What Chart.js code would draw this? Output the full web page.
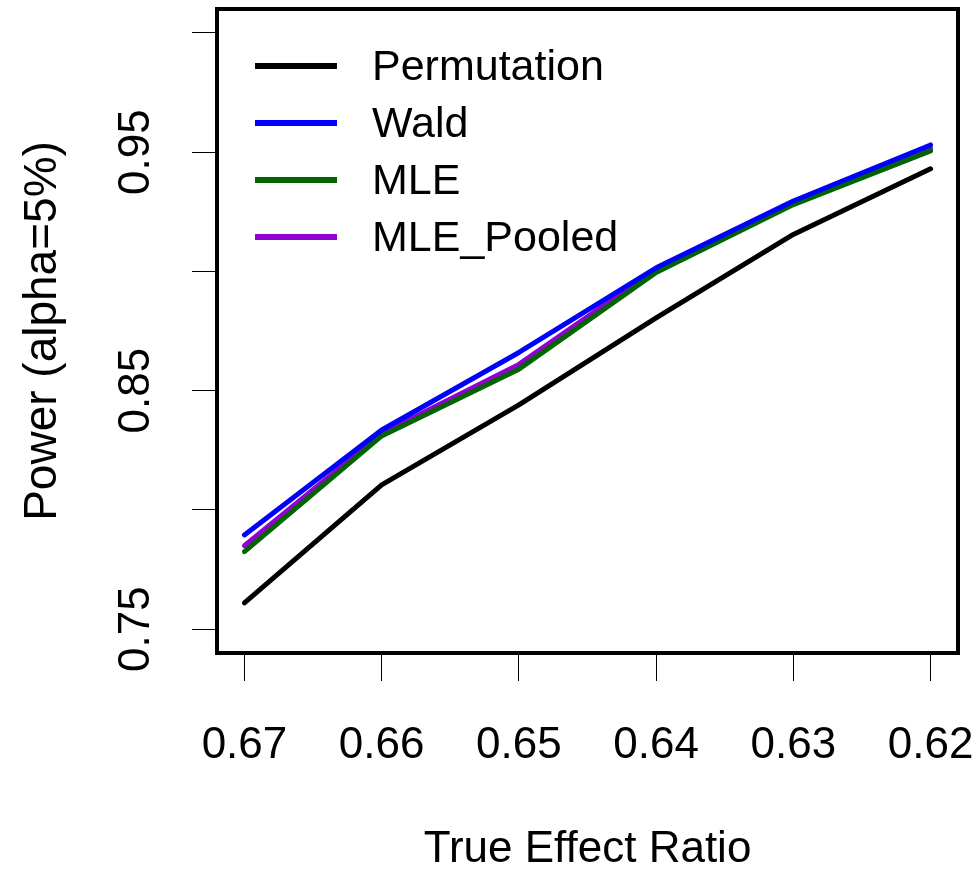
<!DOCTYPE html>
<html>
<head>
<meta charset="utf-8">
<script src="https://cdn.jsdelivr.net/npm/chart.js@4"></script>
<style>
  html, body { margin: 0; padding: 0; background: #fff; }
  #wrap { width: 973px; height: 874px; position: relative; }
</style>
</head>
<body>
<div id="wrap"><canvas id="c"></canvas></div>
<script>
// values
const effectRatios = ["0.67", "0.66", "0.65", "0.64", "0.63", "0.62"];
const permutation = [0.761, 0.8105, 0.844, 0.8805, 0.9155, 0.943];
const wald = [0.7895, 0.8335, 0.866, 0.9015, 0.9295, 0.953];
const mle = [0.7825, 0.831, 0.859, 0.8995, 0.928, 0.9505];
const mlePooled = [0.785, 0.832, 0.861, 0.901, 0.929, 0.9515];
const yTicks = [0.75, 0.8, 0.85, 0.9, 0.95, 1.0];
const yLabelled = [0.75, 0.85, 0.95];

const FONT = "'Liberation Sans', Arial, sans-serif";

function series(label, values, color) {
  return {
    label,
    data: values.map((v, i) => ({ x: i + 1, y: v })),
    borderColor: color,
    backgroundColor: color,
    borderWidth: 5,
    borderCapStyle: "round",
    borderJoinStyle: "round",
    pointRadius: 0,
    tension: 0,
    fill: false,
  };
}

// box around the plot region, like R's box()
const boxPlugin = {
  id: "box",
  afterDraw(chart) {
    const { ctx, chartArea: a } = chart;
    ctx.save();
    ctx.strokeStyle = "#000";
    ctx.lineWidth = 4;
    ctx.strokeRect(a.left, a.top, a.right - a.left, a.bottom - a.top);
    ctx.restore();
  },
};

// legend inside the top-left corner, no frame
const insideLegend = {
  id: "insideLegend",
  afterDraw(chart) {
    const { ctx, chartArea: a } = chart;
    ctx.save();
    ctx.font = "43px " + FONT;
    ctx.textBaseline = "middle";
    ctx.fillStyle = "#000";
    chart.data.datasets.forEach((ds, i) => {
      const y = a.top + 57 + i * 57;
      ctx.strokeStyle = ds.borderColor;
      ctx.lineWidth = 6;
      ctx.beginPath();
      ctx.moveTo(a.left + 38, y);
      ctx.lineTo(a.left + 120, y);
      ctx.stroke();
      ctx.fillText(ds.label, a.left + 155, y + 2);
    });
    ctx.restore();
  },
};

new Chart(document.getElementById("c"), {
  type: "line",
  data: {
    datasets: [
      series("Permutation", permutation, "#000000"),
      series("Wald", wald, "#0000FF"),
      series("MLE", mle, "#006400"),
      series("MLE_Pooled", mlePooled, "#9400D3"),
    ],
  },
  plugins: [boxPlugin, insideLegend],
  options: {
    responsive: true,
    maintainAspectRatio: false,
    animation: false,
    layout: { padding: { left: 0, top: 9, right: 15, bottom: 0 } },
    plugins: { legend: { display: false }, tooltip: { enabled: false } },
    scales: {
      x: {
        type: "linear",
        min: 0.8,
        max: 6.2,
        afterBuildTicks: (s) => { s.ticks = effectRatios.map((_, i) => ({ value: i + 1 })); },
        afterFit: (s) => {
          s.height = 221;
          s.paddingLeft = 0;
          s.paddingRight = 0;
        },
        grid: { drawOnChartArea: false, tickLength: 28, color: "#000", lineWidth: 1 },
        border: { display: false },
        ticks: {
          autoSkip: false,
          maxRotation: 0,
          padding: 38,
          color: "#000",
          font: { family: FONT, size: 44 },
          callback: (v) => effectRatios[Math.round(v) - 1],
        },
        title: {
          display: true,
          text: "True Effect Ratio",
          color: "#000",
          font: { family: FONT, size: 44, lineHeight: 1 },
          padding: { top: 0, bottom: 2 },
        },
      },
      y: {
        min: 0.74,
        max: 1.01,
        afterBuildTicks: (s) => { s.ticks = yTicks.map((v) => ({ value: v })); },
        afterFit: (s) => {
          s.width = 217;
          s.paddingTop = 0;
          s.paddingBottom = 0;
        },
        grid: { drawOnChartArea: false, tickLength: 25, color: "#000", lineWidth: 1 },
        border: { display: false },
        ticks: {
          autoSkip: false,
          minRotation: 90,
          maxRotation: 90,
          crossAlign: "center",
          padding: 12,
          color: "#000",
          font: { family: FONT, size: 44 },
          callback: (v) => (yLabelled.some((t) => Math.abs(t - v) < 1e-9) ? v.toFixed(2) : ""),
        },
        title: {
          display: true,
          text: "Power (alpha=5%)",
          color: "#000",
          font: { family: FONT, size: 46, lineHeight: 1 },
          padding: { top: 20, bottom: 0 },
        },
      },
    },
  },
});
</script>
</body>
</html>
